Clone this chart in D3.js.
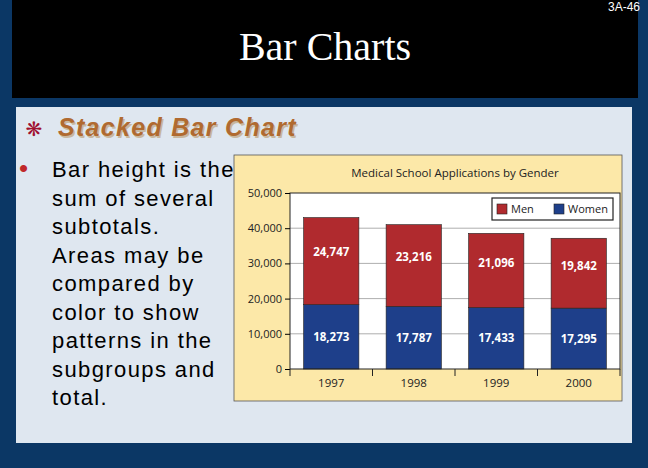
<!DOCTYPE html>
<html><head><meta charset="utf-8">
<script src="https://cdn.jsdelivr.net/npm/d3@7"></script>
<style>body{margin:0;background:#0b3765;}svg{display:block}</style>
</head><body><svg id="c" width="648" height="468"></svg>
<script>
const years = ["1997","1998","1999","2000"];
const women = [18273,17787,17433,17295];
const men = [24747,23216,21096,19842];
const yTicks = [0,10000,20000,30000,40000,50000];
const bulletLines = ["Bar height is the","sum of several","subtotals.","Areas may be","compared by","color to show","patterns in the","subgroups and","total."];

const svg = d3.select("#c");
svg.append("rect").attr("width",648).attr("height",468).attr("fill","#0b3765");
svg.append("rect").attr("x",12).attr("y",0).attr("width",626).attr("height",98).attr("fill","#000");
svg.append("text").attr("x",325).attr("y",60).attr("text-anchor","middle").attr("fill","#fff")
  .attr("font-family","Liberation Serif").attr("font-size",40).text("Bar Charts");
svg.append("text").attr("x",640).attr("y",11).attr("text-anchor","end").attr("fill","#fff")
  .attr("font-family","Liberation Sans").attr("font-size",12).text("3A-46");
svg.append("rect").attr("x",16).attr("y",107).attr("width",616).attr("height",336).attr("fill","#dfe7f0");
svg.append("text").attr("x",34).attr("y",136).attr("text-anchor","middle").attr("fill","#a01030")
  .attr("font-family","DejaVu Sans").attr("font-size",20).text("❋");
[[1.5,1.5,"#c8b8a0"],[0,0,"#b06a30"]].forEach(([dx,dy,c])=>
svg.append("text").attr("x",58+dx).attr("y",136+dy).attr("fill",c).attr("font-family","Liberation Sans")
  .attr("font-weight","bold").attr("font-style","italic").attr("font-size",25).attr("letter-spacing",1.3).text("Stacked Bar Chart"));
svg.append("text").attr("x",19).attr("y",177).attr("fill","#c0282a").attr("font-family","Liberation Sans").attr("font-size",26).text("•");
bulletLines.forEach((t,i)=>svg.append("text").attr("x",52).attr("y",177+i*28.5).attr("fill","#000")
  .attr("font-family","Liberation Sans").attr("font-size",22).attr("letter-spacing",1.4).text(t));

// chart panel
svg.append("rect").attr("x",234).attr("y",155).attr("width",388).attr("height",246).attr("fill","#fce8a8").attr("stroke","#555").attr("stroke-width",0.8);
const L=290,R=620,T=193,B=369;
svg.append("rect").attr("x",L).attr("y",T).attr("width",R-L).attr("height",B-T).attr("fill","#fff");
const x=d3.scaleBand().domain(years).range([L,R]).paddingInner(0.33).paddingOuter(0.165);
const y=d3.scaleLinear().domain([0,50000]).range([B,T]);
const grid=svg.append("g");
yTicks.slice(1,5).forEach(v=>grid.append("line").attr("x1",L).attr("x2",R).attr("y1",y(v)).attr("y2",y(v)).attr("stroke","#999").attr("stroke-width",0.8));
svg.append("text").attr("x",455).attr("y",177).attr("text-anchor","middle").attr("font-family","Open Sans").attr("font-size",11.5).attr("fill","#222").text("Medical School Applications by Gender");
const g=svg.append("g");
years.forEach((yr,i)=>{
  g.append("rect").attr("x",x(yr)).attr("width",x.bandwidth()).attr("y",y(women[i])).attr("height",B-y(women[i])).attr("fill","#1e3f8a").attr("stroke","#222").attr("stroke-width",0.6);
  g.append("rect").attr("x",x(yr)).attr("width",x.bandwidth()).attr("y",y(women[i]+men[i])).attr("height",y(women[i])-y(women[i]+men[i])).attr("fill","#b02a2e").attr("stroke","#222").attr("stroke-width",0.6);
  const fmt=d3.format(",");
  g.append("text").attr("x",x(yr)+x.bandwidth()/2).attr("y",y(women[i]/2)+4).attr("text-anchor","middle").attr("fill","#fff").attr("font-family","Open Sans").attr("font-weight","bold").attr("font-size",11.5).text(fmt(women[i]));
  g.append("text").attr("x",x(yr)+x.bandwidth()/2).attr("y",y(women[i]+men[i]*0.6)+4).attr("text-anchor","middle").attr("fill","#fff").attr("font-family","Open Sans").attr("font-weight","bold").attr("font-size",11.5).text(fmt(men[i]));
});
svg.append("rect").attr("x",L).attr("y",T).attr("width",R-L).attr("height",B-T).attr("fill","none").attr("stroke","#222").attr("stroke-width",1);
const ya=svg.append("g").attr("transform",`translate(${L},0)`).call(d3.axisLeft(y).tickValues(yTicks).tickSize(5).tickFormat(d3.format(",")));
ya.select(".domain").remove();
ya.selectAll("text").attr("font-family","Open Sans").attr("font-size",11).attr("fill","#222");
const xa=svg.append("g").attr("transform",`translate(0,${B})`).call(d3.axisBottom(x).tickSize(0).tickPadding(10));
xa.select(".domain").remove();
xa.selectAll("text").attr("font-family","Open Sans").attr("font-size",11.5).attr("fill","#222");
const step=x.step();
[L,L+step*1,L+step*2,L+step*3,R].forEach(v=>svg.append("line").attr("x1",v).attr("x2",v).attr("y1",B).attr("y2",B+7).attr("stroke","#222"));
// legend
const lg=svg.append("g");
lg.append("rect").attr("x",492).attr("y",198).attr("width",121).attr("height",22).attr("fill","#fff").attr("stroke","#222").attr("stroke-width",1.2);
[["Men","#b02a2e",497],["Women","#1e3f8a",554]].forEach(([t,c,xx])=>{
  lg.append("rect").attr("x",xx).attr("y",204).attr("width",10).attr("height",10).attr("fill",c).attr("stroke","#222").attr("stroke-width",0.6);
  lg.append("text").attr("x",xx+14).attr("y",213).attr("font-family","Open Sans").attr("font-size",11).attr("fill","#222").text(t);
});
</script></body></html>
